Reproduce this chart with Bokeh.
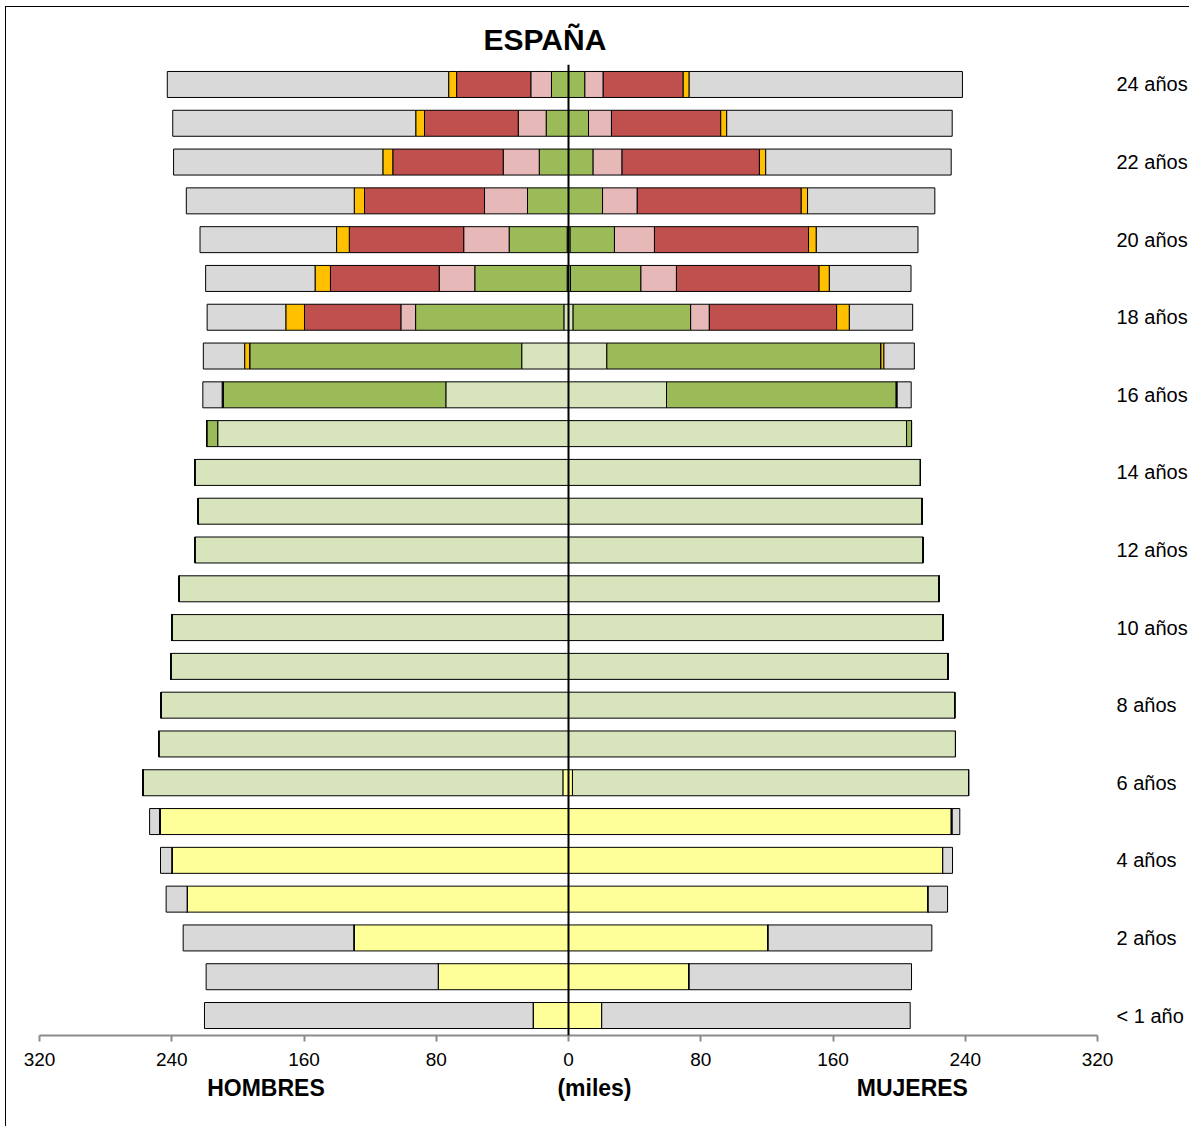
from bokeh.plotting import figure
from bokeh.models import ColumnDataSource, Range1d, FixedTicker, LinearAxis, Span
from bokeh.embed import file_html
from bokeh.resources import INLINE

# ---------------- data (thousands) ----------------
ages = list(range(25))
age_tick_labels = {0: "< 1 año", 2: "2 años", 4: "4 años", 6: "6 años", 8: "8 años",
                   10: "10 años", 12: "12 años", 14: "14 años", 16: "16 años",
                   18: "18 años", 20: "20 años", 22: "22 años", 24: "24 años"}
x_ticks = [-320, -240, -160, -80, 0, 80, 160, 240, 320]

series = ["infantil", "obligatoria", "postoblig", "fp_basica", "secundaria2", "superior", "no_escol"]
colors = ["#FFFF99", "#D7E4BC", "#9BBB59", "#E6B9B8", "#C0504D", "#FFC000", "#D9D9D9"]

# HOMBRES, ages 0..24
h_infantil = [21.4, 78.8, 129.9, 230.7, 240.0, 246.8, 3.4, 0, 0, 0, 0, 0, 0, 0, 0, 0,
              0, 0, 0, 0, 0, 0, 0, 0, 0]
h_obligatoria = [0, 0, 0, 0, 0, 0.6, 254.1, 247.9, 246.4, 240.6, 240.0, 235.5, 226.1, 224.0,
                 226.1, 212.2, 74.2, 28.3, 2.8, 0.8, 0.8, 0, 0, 0, 0]
h_postoblig = [0, 0, 0, 0, 0, 0, 0, 0, 0, 0, 0, 0, 0, 0, 0, 6.7, 134.7, 164.6, 89.7, 55.9,
               35.1, 24.8, 17.7, 13.5, 10.3]
h_fp_basica = [0, 0, 0, 0, 0, 0, 0, 0, 0, 0, 0, 0, 0, 0, 0, 0, 0, 0, 8.9, 21.5, 27.5, 26.0,
               21.8, 16.9, 12.5]
h_secundaria2 = [0, 0, 0, 0, 0, 0, 0, 0, 0, 0, 0, 0, 0, 0, 0, 0, 0.6, 0, 58.3, 65.8, 69.2,
                 72.6, 66.8, 56.7, 44.9]
h_superior = [0, 0, 0, 0, 0, 0, 0, 0, 0, 0, 0, 0, 0, 0, 0, 0, 0, 3.0, 11.3, 9.3, 7.7, 6.2,
              6.0, 5.3, 4.8]
h_no_escol = [198.8, 140.4, 103.2, 12.7, 6.8, 6.0, 0, 0, 0, 0, 0, 0, 0, 0, 0, 0, 11.7, 25.0,
              47.6, 66.2, 82.6, 101.6, 126.6, 147.0, 170.2]

# MUJERES, ages 0..24
m_infantil = [20.1, 73.0, 120.8, 217.6, 226.4, 231.5, 2.4, 0, 0, 0, 0, 0, 0, 0, 0, 0,
              0, 0, 0, 0, 0, 0, 0, 0, 0]
m_obligatoria = [0, 0, 0, 0, 0, 0.6, 239.6, 234.1, 233.6, 229.6, 226.6, 224.2, 214.6, 214.0,
                 212.9, 204.5, 59.3, 23.2, 2.8, 1.2, 1.0, 0, 0, 0, 0]
m_postoblig = [0, 0, 0, 0, 0, 0, 0, 0, 0, 0, 0, 0, 0, 0, 0, 3.0, 139.0, 165.8, 71.1, 42.6,
               26.8, 20.6, 14.9, 12.1, 9.9]
m_fp_basica = [0, 0, 0, 0, 0, 0, 0, 0, 0, 0, 0, 0, 0, 0, 0, 0, 0, 0, 11.3, 21.5, 24.2, 21.0,
               17.5, 13.9, 11.1]
m_secundaria2 = [0, 0, 0, 0, 0, 0, 0, 0, 0, 0, 0, 0, 0, 0, 0, 0, 0.5, 0, 77.0, 86.3, 93.2,
                 99.2, 83.1, 66.1, 48.4]
m_superior = [0, 0, 0, 0, 0, 0, 0, 0, 0, 0, 0, 0, 0, 0, 0, 0, 0, 1.8, 7.7, 6.2, 4.7, 3.8,
              3.8, 3.6, 3.6]
m_no_escol = [186.6, 134.5, 99.0, 11.7, 5.9, 4.6, 0, 0, 0, 0, 0, 0, 0, 0, 0, 0, 8.5, 18.4,
              38.3, 49.4, 61.5, 77.0, 112.2, 136.4, 165.3]

hombres = [h_infantil, h_obligatoria, h_postoblig, h_fp_basica, h_secundaria2, h_superior, h_no_escol]
mujeres = [m_infantil, m_obligatoria, m_postoblig, m_fp_basica, m_secundaria2, m_superior, m_no_escol]

# ---------------- figure ----------------
FONT = "Liberation Sans"
W, H = 1184, 1120

p = figure(width=W, height=H, output_backend="svg", toolbar_location=None,
           x_range=Range1d(-320, 320), y_range=Range1d(-0.515, 24.515),
           y_axis_location="right",
           min_border_left=33, min_border_right=93, min_border_top=57, min_border_bottom=92,
           title="ESPAÑA")
p.styles = {"margin-left": "5px", "margin-top": "6px",
            "border-left": "1px solid #000000", "border-top": "1px solid #000000"}

p.title.text_font = FONT
p.title.text_font_size = "30px"
p.title.text_font_style = "bold"
p.title.text_color = "black"
p.title.align = "left"
p.title.offset = 444
p.title.standoff = 18

p.xgrid.visible = False
p.ygrid.visible = False
p.outline_line_color = None
p.background_fill_color = "white"
p.border_fill_color = "white"

left_src = ColumnDataSource(dict(age=ages, **{s: [-v for v in vals] for s, vals in zip(series, hombres)}))
right_src = ColumnDataSource(dict(age=ages, **{s: vals for s, vals in zip(series, mujeres)}))

p.hbar_stack(series, y="age", height=0.67, color=colors, line_color="black",
             line_width=1, source=left_src)
p.hbar_stack(series, y="age", height=0.67, color=colors, line_color="black",
             line_width=1, source=right_src)

p.add_layout(Span(location=0, dimension="height", line_color="black", line_width=2))

# main x axis
xa = p.xaxis[0]
xa.ticker = FixedTicker(ticks=x_ticks)
xa.major_label_overrides = {t: str(abs(t)) for t in x_ticks}
xa.axis_line_color = "#8C8C8C"
xa.axis_line_width = 2
xa.major_tick_line_color = "#8C8C8C"
xa.major_tick_line_width = 2
xa.major_tick_in = 0
xa.major_tick_out = 6
xa.minor_tick_line_color = None
xa.major_label_text_font = FONT
xa.major_label_text_font_size = "19px"
xa.major_label_text_color = "black"
xa.major_label_standoff = 11

# bottom titles as a second axis
ta = LinearAxis(ticker=FixedTicker(ticks=[-183, 15.7, 208]),
                major_label_overrides={-183: "HOMBRES", 15.7: "(miles)", 208: "MUJERES"})
ta.axis_line_color = None
ta.major_tick_line_color = None
ta.minor_tick_line_color = None
ta.major_label_text_font = FONT
ta.major_label_text_font_size = "23px"
ta.major_label_text_font_style = "bold"
ta.major_label_text_color = "black"
ta.major_label_standoff = 0
p.add_layout(ta, "below")

# age labels on the right
ya = p.yaxis[0]
ya.ticker = FixedTicker(ticks=sorted(age_tick_labels.keys()))
ya.major_label_overrides = age_tick_labels
ya.axis_line_color = None
ya.major_tick_line_color = None
ya.minor_tick_line_color = None
ya.major_label_text_font = FONT
ya.major_label_text_font_size = "20px"
ya.major_label_text_color = "black"
ya.major_label_standoff = 13

open("out.html", "w").write(file_html(p, INLINE))
